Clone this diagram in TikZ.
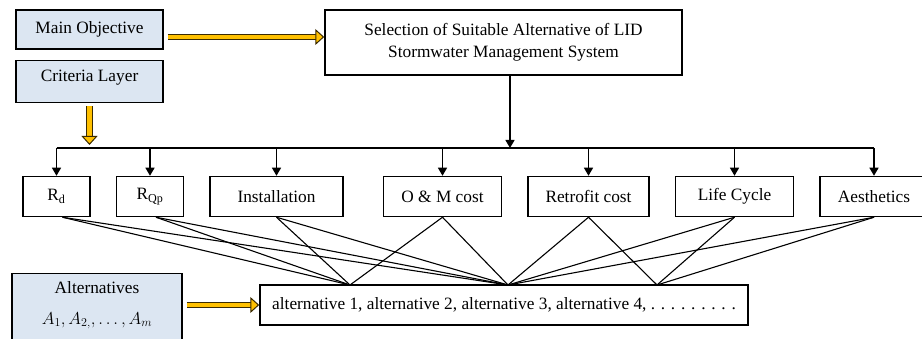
\documentclass[tikz,border=0pt]{standalone}
\usepackage{fontspec}
\setmainfont{Liberation Serif}
\usetikzlibrary{positioning,arrows.meta}
\definecolor{boxblue}{HTML}{DCE6F2}
\definecolor{gold}{HTML}{FFC000}
\definecolor{goldedge}{HTML}{3A2A00}

\begin{document}
\begin{tikzpicture}[x=1pt,y=-1pt,font=\fontsize{17.3}{22}\selectfont]
      \tikzstyle{every node} = [align=center, draw, line width=1.5pt, inner sep=2pt]
      \tikzstyle{layer} = [fill=boxblue, minimum width=147pt]
      \tikzstyle{crit} = [minimum height=40pt, node distance=25pt]
      \tikzstyle{link} = [line width=1.1pt]
      \tikzstyle{down} = [line width=1.3pt, -{Triangle[length=8pt,width=9pt]}]
      \tikzstyle{goldarrow} = [line width=1pt, draw=goldedge, double=gold, double distance=4.5pt,
                               -{Triangle[length=9pt,width=16pt,fill=gold]}]

      \useasboundingbox (0,0) rectangle (922,339);

      % left column
      \node[layer, minimum height=39pt](obj) at (89.5,29.5){Main Objective};
      \node[layer, anchor=north, text height=18pt, text depth=18pt, inner ysep=3pt](crl) at (89.5,60){Criteria Layer};
      \node[layer, minimum width=170pt, minimum height=72pt, anchor=north](alts) at (97,273)
            {Alternatives\\[9pt]$A_1, A_{2,}, \ldots, A_m$\rule[-14pt]{0pt}{1pt}};

      % goal
      \node[minimum width=357pt, minimum height=65pt](goal) at (503.5,42.5)
            {Selection of Suitable Alternative of LID\\ Stormwater Management System};

      % criteria
      \node[crit, minimum width=67pt](rd) at (56.5,196.5){R\textsubscript{d}};
      \node[crit, minimum width=67pt, right=of rd](rqp){R\textsubscript{Qp}};
      \node[crit, minimum width=133pt, right=of rqp](inst){Installation};
      \node[crit, minimum width=118pt, right=39pt of inst](om){O \& M cost};
      \node[crit, minimum width=121pt, right=of om](retro){Retrofit cost};
      \node[crit, minimum width=118pt, right=of retro](life){Life Cycle};
      \node[crit, minimum width=108pt, right=of life](aes){Aesthetics};

      % alternatives
      \node[minimum width=488pt, minimum height=40pt](alt) at (504,305)
            {alternative 1, alternative 2, alternative 3, alternative 4, . . . . . . . . .};

      \coordinate (fork) at (510,148);
      \coordinate (p1) at (350,285);
      \coordinate (p2) at (508,285);
      \coordinate (p3) at (657,285);

      % hierarchy
      \draw[down] (fork |- goal.south) -- (fork);
      \draw[line width=1.3pt] (rd.north |- fork) -- (aes.north |- fork);
      \foreach \c in {rd,rqp,inst,om,retro,life,aes}
            \draw[down] (\c.north |- fork) -- (\c);

      % gold arrows
      \draw[goldarrow] (obj.east |- 0,37) ++(4,0) -- (goal.west |- 0,37);
      \draw[goldarrow] (crl.south) ++(0,3) -- (crl.south |- 0,145);
      \draw[goldarrow] (alts.east |- alt) ++(4,0) -- (alt.west);

      % criteria to alternatives
      \path[link] ([xshift=6pt]rd.south) edge (p1) edge (p2);
      \path[link] ([xshift=6pt]rqp.south) edge (p1) edge (p2);
      \path[link] (inst.south) edge (p1) edge (p2);
      \path[link] (om.south) edge (p1) edge (p2);
      \path[link] (retro.south) edge (p2) edge (p3);
      \path[link] (life.south) edge (p2) edge (p3);
      \path[link] (aes.south) edge (p2) edge (p3);
\end{tikzpicture}
\end{document}
